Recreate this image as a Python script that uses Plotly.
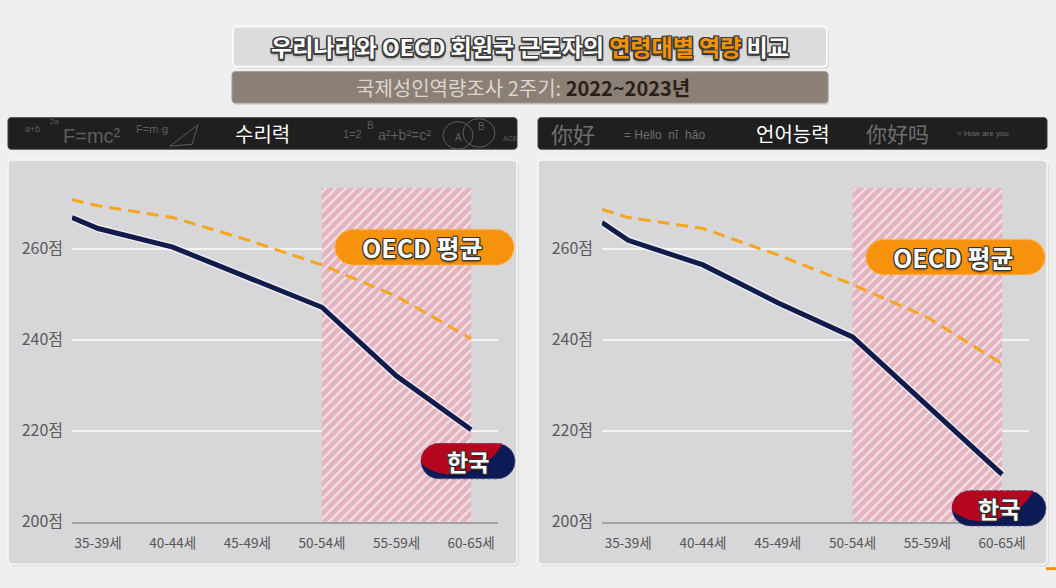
import plotly.graph_objects as go

# ---------------- data ----------------
age_groups = ["35-39세", "40-44세", "45-49세", "50-54세", "55-59세", "60-65세"]
point_pos = [-0.35, 0, 1, 2, 3, 4, 5]          # first point sits at the left edge of the plot
numeracy_korea = [266.8, 264.4, 260.3, 253.6, 247.1, 232.0, 220.2]
numeracy_oecd = [270.7, 269.4, 266.8, 261.9, 256.4, 249.5, 240.2]
literacy_korea = [265.7, 261.8, 256.4, 248.1, 240.6, 225.5, 210.4]
literacy_oecd = [268.6, 266.8, 264.4, 258.6, 252.1, 244.9, 234.7]
y_ticks = [200, 220, 240, 260]
y_ticktext = ["200점", "220점", "240점", "260점"]
panel_titles = ["수리력", "언어능력"]
hatch_center = [4]
hatch_height = [73.3]

W, H = 1056, 588
FONT = "Noto Sans CJK KR"


def X(x):
    return x / W


def Y(y):
    return 1 - y / H


def path_px(parts):
    s = ""
    for cmd, pts in parts:
        s += cmd
        coords = []
        for i in range(0, len(pts), 2):
            coords.append(f"{X(pts[i]):.5f},{Y(pts[i+1]):.5f}")
        s += " ".join(coords) + " "
    return s.strip()


def rrect(x0, y0, x1, y1, r):
    k = 0.5523 * r
    return path_px([
        ("M", [x0 + r, y0]), ("L", [x1 - r, y0]),
        ("C", [x1 - r + k, y0, x1, y0 + r - k, x1, y0 + r]),
        ("L", [x1, y1 - r]),
        ("C", [x1, y1 - r + k, x1 - r + k, y1, x1 - r, y1]),
        ("L", [x0 + r, y1]),
        ("C", [x0 + r - k, y1, x0, y1 - r + k, x0, y1 - r]),
        ("L", [x0, y0 + r]),
        ("C", [x0, y0 + r - k, x0 + r - k, y0, x0 + r, y0]),
        ("Z", []),
    ])


def korea_red(x0, y0, x1, y1):
    h = y1 - y0
    r = h / 2
    k = 0.5523 * r
    ym = (y0 + y1) / 2
    return path_px([
        ("M", [x0, ym]),
        ("C", [x0, ym - k, x0 + r - k, y0, x0 + r, y0]),
        ("L", [x1 - r * 0.7, y0]),
        ("C", [x1 - r * 1.2, y0 + h * 0.55, x0 + r * 2.4, y1 + 1, x0 + r * 0.9, y1 - h * 0.18]),
        ("C", [x0 + r * 0.35, y1 - h * 0.3, x0, ym + 4, x0, ym]),
        ("Z", []),
    ])


fig = go.Figure()

panels = [
    dict(korea=numeracy_korea, oecd=numeracy_oecd, xa="x", ya="y", dx=0),
    dict(korea=literacy_korea, oecd=literacy_oecd, xa="x2", ya="y2", dx=530),
]

for p in panels:
    fig.add_trace(go.Bar(
        x=hatch_center, y=hatch_height, base=200, width=2,
        marker=dict(color="#e3b4c0", line=dict(width=0),
                    pattern=dict(shape="/", fgcolor="#f3e4e8", bgcolor="#e3b4c0",
                                 size=7, solidity=0.3, fillmode="replace")),
        xaxis=p["xa"], yaxis=p["ya"], showlegend=False, hoverinfo="skip"))
    fig.add_trace(go.Scatter(
        x=point_pos, y=p["oecd"], mode="lines",
        line=dict(color="#f4a61c", width=3, dash="12px,7px"),
        xaxis=p["xa"], yaxis=p["ya"], showlegend=False, name="OECD 평균"))
    fig.add_trace(go.Scatter(
        x=point_pos, y=p["korea"], mode="lines",
        line=dict(color="rgba(255,255,255,0.55)", width=8),
        xaxis=p["xa"], yaxis=p["ya"], showlegend=False, hoverinfo="skip"))
    fig.add_trace(go.Scatter(
        x=point_pos, y=p["korea"], mode="lines",
        line=dict(color="#121c4c", width=5),
        xaxis=p["xa"], yaxis=p["ya"], showlegend=False, name="한국"))

ydom = [Y(531.7), Y(188.3)]
common_x = dict(range=[-0.35, 5.36], tickvals=list(range(len(age_groups))), ticktext=age_groups,
                showgrid=False, zeroline=False, showline=True, linecolor="#a2a2a4", linewidth=2,
                ticks="", ticklabelstandoff=8,
                tickfont=dict(family=FONT, size=13.5, color="#555555"), fixedrange=True)
common_y = dict(range=[200, 274], tickvals=y_ticks, ticktext=y_ticktext, showgrid=True,
                gridcolor="#f4f4f4", gridwidth=1.5, zeroline=False, showline=False,
                ticks="", ticklabelstandoff=8,
                tickfont=dict(family=FONT, size=16, color="#5c5c5c"), fixedrange=True)

fig.update_layout(
    width=W, height=H,
    margin=dict(l=0, r=0, t=0, b=0),
    paper_bgcolor="#efefef", plot_bgcolor="rgba(0,0,0,0)",
    barmode="overlay",
    xaxis=dict(domain=[X(72), X(498)], anchor="y", **common_x),
    yaxis=dict(domain=ydom, anchor="x", **common_y),
    xaxis2=dict(domain=[X(602), X(1029)], anchor="y2", **common_x),
    yaxis2=dict(domain=ydom, anchor="x2", **common_y),
)

shapes = []
annotations = []

# title boxes
shapes.append(dict(type="path", path=rrect(235, 29, 829, 70, 4), xref="paper", yref="paper",
                   fillcolor="rgba(0,0,0,0.10)", line=dict(width=0), layer="below"))
shapes.append(dict(type="path", path=rrect(233, 27, 827, 68, 4), xref="paper", yref="paper",
                   fillcolor="#dcdcdc", line=dict(color="#fafafa", width=2), layer="below"))
shapes.append(dict(type="path", path=rrect(233, 75, 829, 107, 3), xref="paper", yref="paper",
                   fillcolor="rgba(0,0,0,0.10)", line=dict(width=0), layer="below"))
shapes.append(dict(type="path", path=rrect(232, 73, 828, 105, 3), xref="paper", yref="paper",
                   fillcolor="#8b7f76", line=dict(color="#a59a92", width=1), layer="below"))

outline = ("-1.5px -1.5px 0 #3c3c3c, 1.5px -1.5px 0 #3c3c3c, -1.5px 1.5px 0 #3c3c3c, 1.5px 1.5px 0 #3c3c3c, "
           "0 -1.5px 0 #3c3c3c, 0 1.5px 0 #3c3c3c, -1.5px 0 0 #3c3c3c, 1.5px 0 0 #3c3c3c, 0 3px 3px rgba(0,0,0,0.35)")
annotations.append(dict(
    x=X(530), y=Y(47), xref="paper", yref="paper", showarrow=False, xanchor="center", yanchor="middle",
    text="<b>우리나라와 OECD 회원국 근로자의 <span style='color:#f39200'>연령대별 역량</span> 비교</b>",
    font=dict(family=FONT, size=23, color="#ffffff", shadow=outline)))
annotations.append(dict(
    x=X(523), y=Y(89), xref="paper", yref="paper", showarrow=False, xanchor="center", yanchor="middle",
    text="국제성인역량조사 2주기: <b><span style='color:#2a1f18'>2022~2023년</span></b>",
    font=dict(family=FONT, size=20, color="#ddd6d0")))

for i, p in enumerate(panels):
    dx = p["dx"]
    x0, x1 = 8 + dx, 517 + dx
    shapes.append(dict(type="path", path=rrect(x0, 120, x1, 152, 3), xref="paper", yref="paper",
                       fillcolor="#1f1f1f", line=dict(color="#3a3a3a", width=1), layer="below"))
    shapes.append(dict(type="path", path=rrect(x0 + 1, 165, x1 + 2, 577, 4), xref="paper", yref="paper",
                       fillcolor="rgba(0,0,0,0.08)", line=dict(width=0), layer="below"))
    shapes.append(dict(type="path", path=rrect(x0, 163, x1, 575, 4), xref="paper", yref="paper",
                       fillcolor="#d7d6d8", line=dict(color="#f7f7f7", width=1.5), layer="below"))
    annotations.append(dict(
        x=X((x0 + x1) / 2), y=Y(136), xref="paper", yref="paper", showarrow=False,
        xanchor="center", yanchor="middle", text=panel_titles[i],
        font=dict(family=FONT, size=20, color="#ffffff")))

# chalk decorations (header backgrounds)
chalk = "#5e5e5e"
deco = [
    (92, 139, "F=mc²", 20, "Liberation Sans"),
    (32, 131, "a+b", 9, "Liberation Sans"),
    (54, 124, "2a", 8, "Liberation Sans"),
    (152, 131, "F=m·g", 11, "Liberation Sans"),
    (352, 137, "1=2", 11, "Liberation Sans"),
    (370, 128, "B", 10, "Liberation Sans"),
    (404, 138, "a²+b²=c²", 14, "Liberation Sans"),
    (458, 140, "A", 10, "Liberation Sans"),
    (481, 129, "B", 10, "Liberation Sans"),
    (510, 141, "ACE", 7, "Liberation Sans"),
]
for (x, y, t, s, f) in deco:
    annotations.append(dict(x=X(x), y=Y(y), xref="paper", yref="paper", showarrow=False,
                            xanchor="center", yanchor="middle", text=t,
                            font=dict(family=f, size=s, color=chalk)))
shapes.append(dict(type="path", xref="paper", yref="paper", layer="above",
                   path=path_px([("M", [170, 149]), ("L", [198, 127]), ("L", [192, 147]), ("Z", [])]),
                   line=dict(color=chalk, width=1)))
shapes.append(dict(type="circle", xref="paper", yref="paper", x0=X(443), x1=X(473), y0=Y(152), y1=Y(124),
                   line=dict(color=chalk, width=1)))
shapes.append(dict(type="circle", xref="paper", yref="paper", x0=X(463), x1=X(495), y0=Y(150), y1=Y(121),
                   line=dict(color=chalk, width=1)))

deco2 = [
    (573, 136, "你好", 22, "Noto Sans CJK SC", "#6f6f6f"),
    (664, 138, "= Hello  nĭ  hăo", 12, "Liberation Sans", "#6f6f6f"),
    (897, 136, "你好吗", 21, "Noto Sans CJK SC", "#6f6f6f"),
    (983, 136, "= How are you", 8, "Liberation Sans", "#6f6f6f"),
]
for (x, y, t, s, f, c) in deco2:
    annotations.append(dict(x=X(x), y=Y(y), xref="paper", yref="paper", showarrow=False,
                            xanchor="center", yanchor="middle", text=t,
                            font=dict(family=f, size=s, color=c)))

# badges
badge_outline = ("-1px -1px 0 #333, 1px -1px 0 #333, -1px 1px 0 #333, 1px 1px 0 #333, "
                 "0 -1px 0 #333, 0 1px 0 #333, -1px 0 0 #333, 1px 0 0 #333, 0 2px 2px rgba(0,0,0,0.45)")
oecd_boxes = [(335, 234, 514, 270), (866, 244, 1045, 280)]
korea_boxes = [(421, 452, 515, 488), (952, 500, 1046, 536)]
for (a, b, c, d) in oecd_boxes:
    shapes.append(dict(type="path", path=rrect(a, b, c, d, (d - b) / 2), xref="paper", yref="paper",
                       fillcolor="#f7920d", line=dict(color="#fdb54a", width=1.5, dash="dot"), layer="above"))
    annotations.append(dict(x=X((a + c) / 2 - 2), y=Y((b + d) / 2), xref="paper", yref="paper",
                            showarrow=False, xanchor="center", yanchor="middle",
                            text="<b>OECD 평균</b>",
                            font=dict(family=FONT, size=25, color="#ffffff", shadow=badge_outline)))
for (a, b, c, d) in korea_boxes:
    shapes.append(dict(type="path", path=rrect(a, b, c, d, (d - b) / 2), xref="paper", yref="paper",
                       fillcolor="#0c1a55", line=dict(color="#5a5f85", width=1, dash="dot"), layer="above"))
    shapes.append(dict(type="path", path=korea_red(a, b, c, d), xref="paper", yref="paper",
                       fillcolor="#b5061f", line=dict(width=0), layer="above"))
    annotations.append(dict(x=X((a + c) / 2), y=Y((b + d) / 2), xref="paper", yref="paper",
                            showarrow=False, xanchor="center", yanchor="middle",
                            text="<b>한국</b>",
                            font=dict(family=FONT, size=23, color="#ffffff", shadow=badge_outline)))

# small orange corner mark
shapes.append(dict(type="rect", xref="paper", yref="paper", x0=X(1046), x1=X(1056), y0=Y(581), y1=Y(578),
                   fillcolor="#f39200", line=dict(width=0)))

fig.update_layout(shapes=shapes, annotations=annotations)
fig.write_html(
    "out.html", config={"displayModeBar": False},
    post_script=("var s=document.createElement('style');"
                 "s.textContent='html,body{margin:0;padding:0;overflow:hidden;background:#efefef}';"
                 "document.head.appendChild(s);"))
